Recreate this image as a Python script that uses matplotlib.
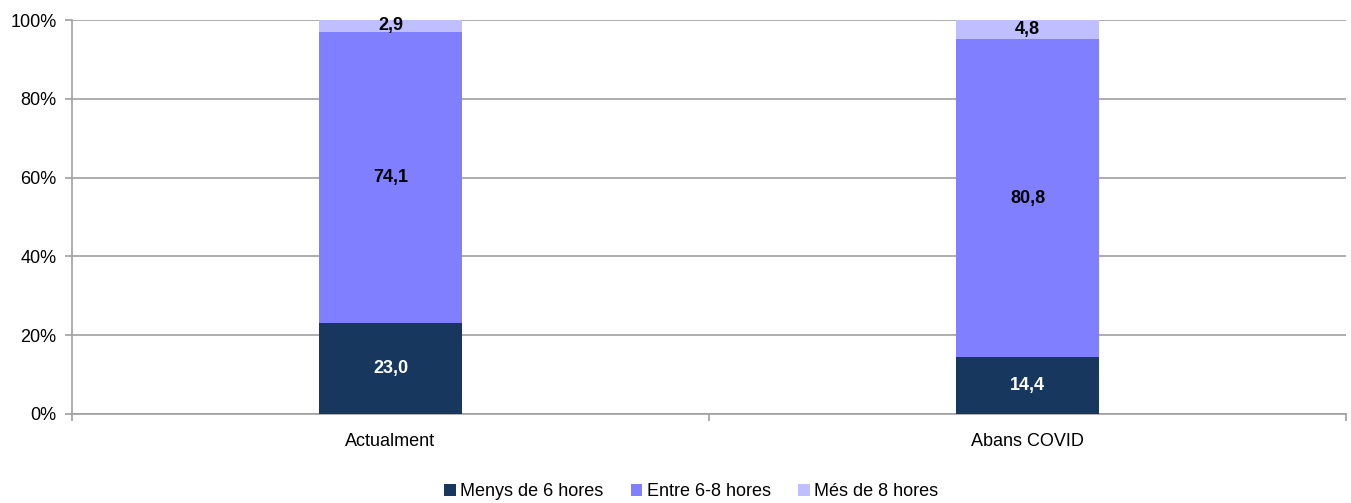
import numpy as np
import matplotlib
matplotlib.use('Agg')
import matplotlib.pyplot as plt
from matplotlib import font_manager

# data
CATEGORIES = ['Actualment', 'Abans COVID']
SERIES = ['Menys de 6 hores', 'Entre 6-8 hores', 'Més de 8 hores']
MENYS_6 = [23.0, 14.4]
ENTRE_6_8 = [74.1, 80.8]
MES_8 = [2.9, 4.8]
COLORS = ['#17375E', '#7F7FFF', '#BFBFFF']
LABEL_COLORS = ['white', 'black', 'black']

names = {f.name for f in font_manager.fontManager.ttflist}
FONT = 'Liberation Sans Narrow' if 'Liberation Sans Narrow' in names else 'Liberation Sans'
plt.rcParams['font.family'] = [FONT, 'DejaVu Sans']


def fmt(v):
    return '{:.1f}'.format(v).replace('.', ',')


def main():
    fig = plt.figure(figsize=(13.51, 5.03), dpi=100)
    ax = fig.add_axes([0.0533, 0.177, 0.9430, 0.783])

    x = np.arange(len(CATEGORIES))
    width = 0.225
    bottom = np.zeros(len(CATEGORIES))
    for vals, name, col, lcol in zip([MENYS_6, ENTRE_6_8, MES_8], SERIES, COLORS, LABEL_COLORS):
        vals = np.array(vals)
        ax.bar(x, vals, width, bottom=bottom, color=col, label=name, zorder=3)
        for xi, b, v in zip(x, bottom, vals):
            ax.text(xi, b + v / 2, fmt(v), ha='center', va='center', color=lcol,
                    fontsize=13, fontweight='bold', zorder=4)
        bottom += vals

    ax.set_xlim(-0.5, 1.5)
    ax.set_ylim(0, 100)
    ax.set_yticks(np.arange(0, 101, 20))
    ax.set_yticklabels(['{}%'.format(t) for t in range(0, 101, 20)], fontsize=13)
    ax.yaxis.grid(True, color='#A0A0A0', linewidth=1.2, zorder=0)

    # category labels + separator ticks
    ax.set_xticks([-0.5, 0.5, 1.5])
    ax.set_xticklabels([])
    ax.set_xticks(x, minor=True)
    ax.set_xticklabels(CATEGORIES, minor=True, fontsize=13)
    ax.tick_params(axis='x', which='minor', length=0, pad=14)
    ax.tick_params(axis='x', which='major', length=5, color='#A0A0A0', width=1.2)
    ax.tick_params(axis='y', length=5, color='#A0A0A0', width=1.2, pad=6)

    for s in ['top', 'right']:
        ax.spines[s].set_visible(False)
    for s in ['left', 'bottom']:
        ax.spines[s].set_color('#A0A0A0')
        ax.spines[s].set_linewidth(1.2)

    ax.legend(loc='center', bbox_to_anchor=(0.486, -0.198), ncol=3, frameon=False,
              fontsize=13, handlelength=0.65, handleheight=0.65, handletextpad=0.25,
              columnspacing=1.5, borderaxespad=0)

    fig.savefig('out.png', dpi=100)


if __name__ == '__main__':
    main()
